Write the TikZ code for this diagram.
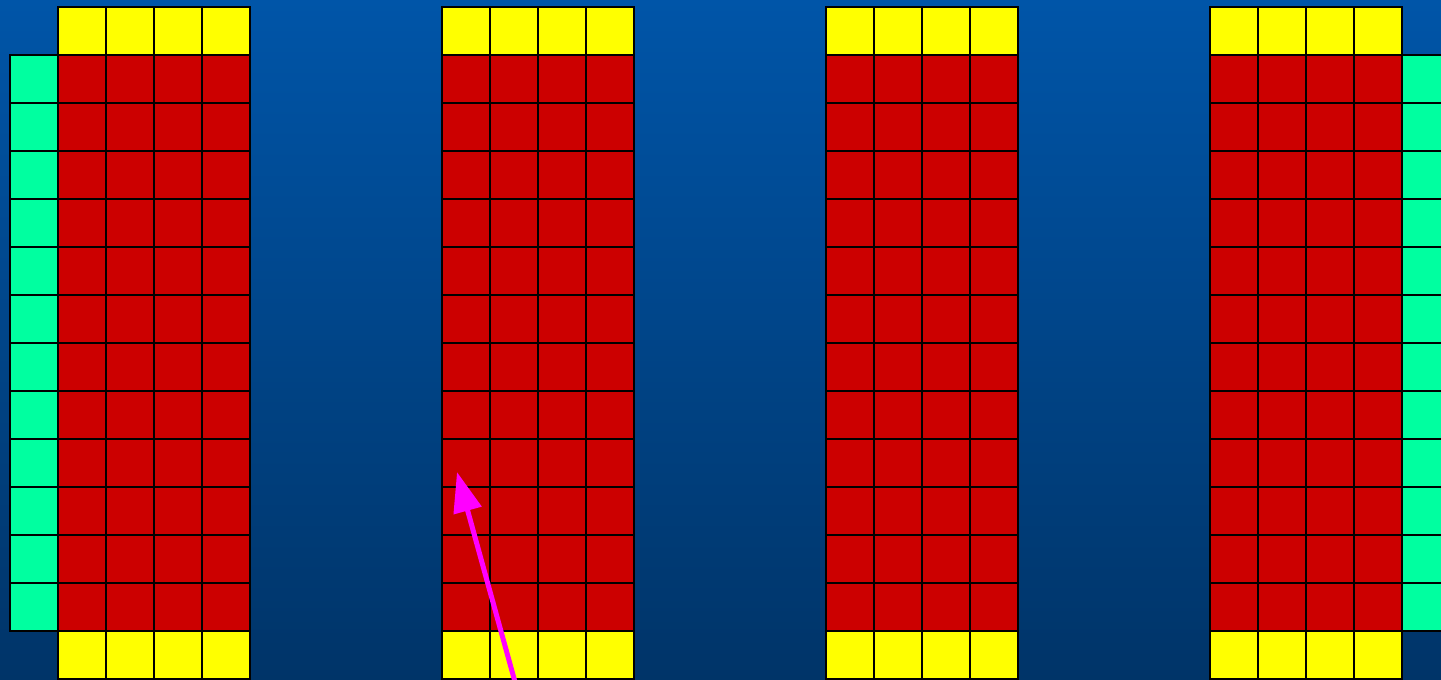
\documentclass[tikz,border=0pt]{standalone}
\usetikzlibrary{arrows.meta}
\definecolor{bgtop}{HTML}{0055A8}
\definecolor{bgbot}{HTML}{003468}
\definecolor{cellred}{HTML}{CC0000}
\definecolor{cellyel}{HTML}{FFFF00}
\definecolor{cellgrn}{HTML}{00FFA0}
\definecolor{arrowmag}{HTML}{FF00FF}
\tikzset{
  cell/.style={draw=black, line width=2pt},
  redcell/.style={cell, fill=cellred},
  yelcell/.style={cell, fill=cellyel},
  grncell/.style={cell, fill=cellgrn},
  pointer/.style={draw=arrowmag, line width=5pt, -{Triangle[length=40pt,width=28pt]}}
}
\begin{document}
\begin{tikzpicture}[x=1pt,y=-1pt]
\useasboundingbox (0,0) rectangle (1441,680);
\clip (0,0) rectangle (1441,680);
\shade[top color=bgtop, bottom color=bgbot] (0,0) rectangle (1441,680);
% green side columns
\foreach \r in {0,...,11} {
  \path[grncell] (10,55+48*\r) rectangle (58,103+48*\r);
  \path[grncell] (1402,55+48*\r) rectangle (1450,103+48*\r);
}
% four blocks
\foreach \bx in {58,442,826,1210} {
  \foreach \c in {0,...,3} {
    \path[yelcell] (\bx+48*\c,7) rectangle (\bx+48*\c+48,55);
    \path[yelcell] (\bx+48*\c,631) rectangle (\bx+48*\c+48,679);
    \foreach \r in {0,...,11} {
      \path[redcell] (\bx+48*\c,55+48*\r) rectangle (\bx+48*\c+48,103+48*\r);
    }
  }
}
\coordinate (tail) at (515,682);
\coordinate (tip) at (457,472);
\draw[pointer] (tail) -- (tip);
\end{tikzpicture}
\end{document}
